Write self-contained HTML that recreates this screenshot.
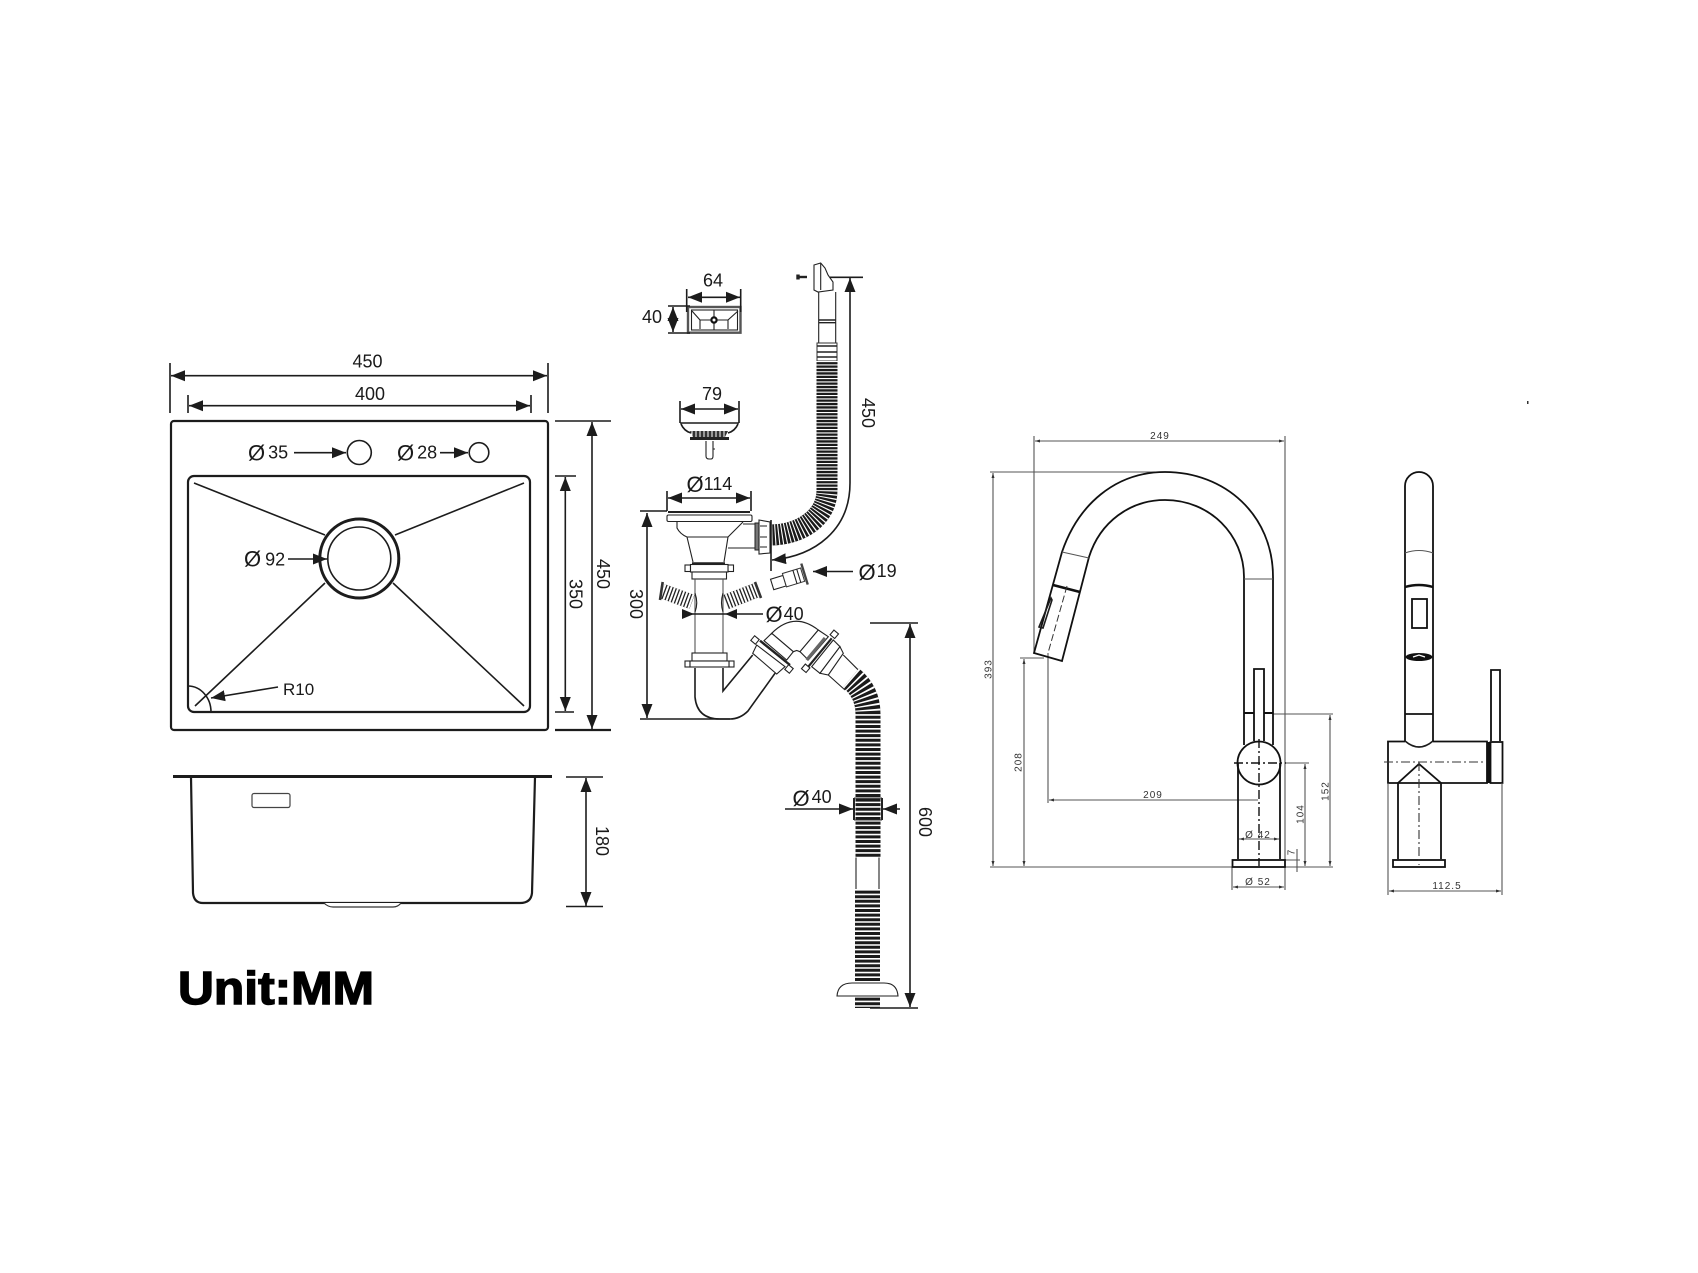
<!DOCTYPE html>
<html><head><meta charset="utf-8"><style>
html,body{margin:0;padding:0;background:#fff}
svg{display:block}
text{font-family:"Liberation Sans",sans-serif;fill:#1a1a1a}
.d{font-size:18px}
.p{font-size:22px}
.s{font-size:10px;letter-spacing:1px;fill:#333}
.m{text-anchor:middle}
.c{text-anchor:middle;dominant-baseline:central}
.l{fill:none;stroke:#1c1c1c;stroke-width:1.6}
.h{fill:none;stroke:#1c1c1c;stroke-width:2.2}
.f{fill:none;stroke:#111;stroke-width:1.8}
.g{fill:none;stroke:#555;stroke-width:1.1}
.w{fill:#fff;stroke:#222;stroke-width:1.1}
.n{fill:none;stroke:#222;stroke-width:1.1}
</style></head><body>
<svg width="1698" height="1273" viewBox="0 0 1698 1273" xmlns="http://www.w3.org/2000/svg">
<defs>
<marker id="a" markerUnits="userSpaceOnUse" markerWidth="16" markerHeight="12" refX="14" refY="6" orient="auto-start-reverse"><path d="M0 .5L14 6L0 11.5z" fill="#1c1c1c"/></marker>
<marker id="b" markerUnits="userSpaceOnUse" markerWidth="6" markerHeight="4" refX="5" refY="2" orient="auto-start-reverse"><path d="M0 .5L5 2L0 3.5z" fill="#333"/></marker>
</defs>
<rect width="1698" height="1273" fill="#fff"/>

<!-- sink top view -->
<rect x="171" y="421" width="377" height="309" rx="3" class="h"/>
<rect x="188" y="476" width="342" height="236" rx="6" class="h"/>
<circle cx="359.3" cy="452.500" r="12" class="l"/>
<circle cx="479" cy="452.500" r="9.800" class="l"/>
<circle cx="359.3" cy="558.500" r="39.500" fill="none" stroke="#1c1c1c" stroke-width="3"/>
<circle cx="359.3" cy="558.500" r="31.500" class="l"/>
<path class="l" d="M194 483L325 535M524 483L395 535M195 706L325 583M524 706L393 583"/>
<path class="l" d="M188 686A23 26 0 0 1 211 712"/>
<path class="l" d="M170 363V413M548 363V413M188 395V413M531 395V413"/>
<line class="l" x1="171" y1="375.7" x2="547" y2="375.7" marker-start="url(#a)" marker-end="url(#a)"/>
<line class="l" x1="189" y1="405.7" x2="530" y2="405.7" marker-start="url(#a)" marker-end="url(#a)"/>
<text class="d m" x="367.500" y="367.500">450</text>
<text class="d m" x="370" y="400">400</text>
<path class="l" d="M555 421H611M555 476H576M555 712H574"/>
<path class="h" d="M555 730H611"/>
<line class="l" x1="592" y1="422" x2="592" y2="729" marker-start="url(#a)" marker-end="url(#a)"/>
<line class="l" x1="565.3" y1="477" x2="565.3" y2="711" marker-start="url(#a)" marker-end="url(#a)"/>
<text class="d c" transform="translate(603 574) rotate(90)">450</text>
<text class="d c" transform="translate(575.500 594) rotate(90)">350</text>
<text class="d" x="248" y="460.500"><tspan class="p">Ø</tspan><tspan dx="3" dy="-2">35</tspan></text>
<line class="l" x1="294" y1="452.7" x2="346" y2="452.7" marker-end="url(#a)"/>
<text class="d" x="397" y="460.500"><tspan class="p">Ø</tspan><tspan dx="3" dy="-2">28</tspan></text>
<line class="l" x1="440" y1="452.7" x2="468" y2="452.7" marker-end="url(#a)"/>
<text class="d" x="244" y="566.500"><tspan class="p">Ø</tspan><tspan dx="4" dy="-1">92</tspan></text>
<line class="l" x1="288" y1="559" x2="327" y2="559" marker-end="url(#a)"/>
<text x="283" y="695" font-size="17">R10</text>
<line class="l" x1="278" y1="687" x2="211" y2="698" marker-end="url(#a)"/>

<!-- sink front view -->
<path d="M173 776.500H552" stroke="#1c1c1c" stroke-width="3" fill="none"/>
<path class="h" d="M191 777L193 893Q194 903 203 903H520Q531 903 532 893L535 777"/>
<rect x="252" y="793.500" width="38" height="14" rx="2" fill="none" stroke="#444" stroke-width="1.2"/>
<path d="M324 903Q328 907 333 907H393Q398 907 401 903" fill="#fff" stroke="#333" stroke-width="1.2"/>
<path class="l" d="M566 777H603M566 906.500H603"/>
<line class="l" x1="586" y1="778" x2="586" y2="906" marker-start="url(#a)" marker-end="url(#a)"/>
<text class="d c" transform="translate(602 841) rotate(90)">180</text>
<text x="178" y="1004" font-size="46" font-weight="700" textLength="196" lengthAdjust="spacingAndGlyphs" style="fill:#000;stroke:#000;stroke-width:1.4">Unit:MM</text>

<!-- overflow plate -->
<rect x="688" y="307" width="52.500" height="25.700" fill="none" stroke="#555" stroke-width="2.4"/>
<rect x="691.500" y="310" width="46" height="20" class="n"/>
<path class="n" d="M692 311L700 320V329M738 311L728 320V329M700 320H728M714 310V330"/>
<circle cx="714" cy="320" r="2.600" fill="#fff" stroke="#111" stroke-width="2.200"/>
<path class="l" d="M686.700 289V312M740.700 289V312M668 306H690M668 333H690"/>
<line class="l" x1="688" y1="297.300" x2="740" y2="297.300" marker-start="url(#a)" marker-end="url(#a)"/>
<line class="l" x1="673" y1="307" x2="673" y2="332" marker-start="url(#a)" marker-end="url(#a)"/>
<text class="d m" x="713" y="286.700">64</text>
<text class="d m" x="652" y="323">40</text>

<!-- strainer -->
<path class="l" d="M680 401V423M739 401V423"/>
<line class="l" x1="681" y1="409" x2="738" y2="409" marker-start="url(#a)" marker-end="url(#a)"/>
<text class="d m" x="712" y="400">79</text>
<path class="l" d="M680 423H739M681 424Q684 431 691 433M738 424Q735 431 728 433"/>
<path d="M690 431L728 431L725 437H693z" fill="#333"/>
<path d="M692 430V437M696 430V437M700 430V437M704 430V437M708 430V437M712 430V437M716 430V437M720 430V437M724 430V437" stroke="#fff" stroke-width="1"/>
<path d="M690 438.500H729" stroke="#222" stroke-width="3"/>
<path class="n" d="M706 441V456Q706 459 709 459H711Q713 459 713 456V441M713 449H715"/>

<!-- basket / pipes -->
<path class="l" d="M667 491V511M751 491V511M640 511H667"/>
<line class="l" x1="668" y1="498" x2="750" y2="498" marker-start="url(#a)" marker-end="url(#a)"/>
<text class="d" x="686.500" y="492"><tspan class="p">Ø</tspan><tspan dy="-2">114</tspan></text>
<path d="M668 512H750" stroke="#222" stroke-width="2"/>
<rect x="667" y="515" width="85" height="6.500" rx="1.500" class="w"/>
<path class="n" d="M677 522V528Q680 534 687 537L693 562M743 522L728 537L724 562M687 537H728M743 524H755M728 548H755"/>
<path d="M692 563.500H725" stroke="#222" stroke-width="2.400"/>
<rect x="755" y="523" width="5" height="27" fill="#777" stroke="#222"/>
<path class="w" d="M759 520L770 522V553L759 554z"/>
<path class="n" d="M760 526H767M760 537H767M760 547H767"/>
<rect x="685" y="565" width="5.500" height="6.500" class="w"/><rect x="728" y="565" width="5.500" height="6.500" class="w"/>
<rect x="690.500" y="564.500" width="37.500" height="7.500" class="w"/>
<rect x="692" y="572" width="34.500" height="7" class="w"/>
<path class="g" d="M695 579V653M723 579V653"/>
<rect x="692" y="653" width="35" height="8" class="w"/>
<rect x="685" y="661" width="5" height="6" class="w"/><rect x="729" y="661" width="5" height="6" class="w"/>
<rect x="690" y="661" width="39" height="6" class="w"/>
<path class="l" d="M695 668V697Q697 719 720 719H730Q740 719 748 711L775 673.300M723 668V691L752.700 655"/>

<!-- side hoses -->
<path d="M662 591L692 602" stroke="#222" stroke-width="15" fill="none"/>
<path d="M662 591L692 602" stroke="#fff" stroke-width="15" stroke-dasharray="2 1.300" fill="none"/>
<path d="M662.700 582L660 600" stroke="#333" stroke-width="2.600"/>
<path class="n" d="M695 593Q698.500 603 695 612"/>
<path d="M757 590L726 602" stroke="#222" stroke-width="15" fill="none"/>
<path d="M757 590L726 602" stroke="#fff" stroke-width="15" stroke-dasharray="2 1.300" fill="none"/>
<path d="M755 582L761 598" stroke="#333" stroke-width="2.600"/>
<path class="n" d="M723 593Q720 603 723 612"/>

<!-- 19 connector -->
<g transform="rotate(-17 772 584)">
<rect x="772" y="579" width="13" height="11" class="w"/>
<rect x="785" y="577" width="19" height="14" fill="#fff" stroke="#333"/>
<path class="n" d="M796 577V591M800 577V591"/>
<path d="M806 573V595" stroke="#444" stroke-width="2.400"/>
</g>
<line class="l" x1="853" y1="571.500" x2="813" y2="571.500" marker-end="url(#a)"/>
<text class="d" x="858.500" y="580"><tspan class="p">Ø</tspan><tspan dx="1" dy="-3">19</tspan></text>
<path class="l" d="M682 614H763"/>
<path d="M682 609L694 614L682 619zM737 609L725 614L737 619z" fill="#1c1c1c"/>
<text class="d" x="765.500" y="622"><tspan class="p">Ø</tspan><tspan dx="1" dy="-2">40</tspan></text>
<path class="l" d="M640 719H730"/>
<line class="l" x1="647" y1="513" x2="647" y2="718" marker-start="url(#a)" marker-end="url(#a)"/>
<text class="d c" transform="translate(636 604) rotate(90)">300</text>

<!-- hose 450 -->
<path class="w" d="M814 265L820.700 263L825 268L828 275L833 282L833 290L818 292L814 290z"/>
<path class="n" d="M820.700 263V290"/>
<path d="M799 277H807" stroke="#222" stroke-width="2.400"/><path d="M798 274.500V279.500" stroke="#222" stroke-width="3.400"/>
<path class="n" d="M818.700 292V343M835.700 292V343"/>
<path d="M819 320H836M819 322.700H836" stroke="#222" stroke-width="1.400"/>
<rect x="817" y="343" width="20" height="18" fill="#fff" stroke="#333"/>
<path d="M817 346H837M817 352H837M817 357H837" stroke="#222" stroke-width="1.400"/>
<path d="M827 361V490C827 518 800 535 770 535" stroke="#1a1a1a" stroke-width="21" fill="none"/>
<path d="M827 361V490C827 518 800 535 770 535" stroke="#fff" stroke-width="21" fill="none" stroke-dasharray="1.100 2.300"/>
<path class="l" d="M830 277.300H863"/>
<path class="l" d="M771 520V571"/>
<path class="l" d="M850 278V483C850 530 815 556 772 560" marker-start="url(#a)" marker-end="url(#a)"/>
<text class="d c" transform="translate(868 413) rotate(90)">450</text>

<!-- elbow -->
<path class="w" d="M771.700 633.300Q794 611 818.300 630L800 651.700L796.700 650.500L793.300 651.700z"/>
<path class="w" d="M771.700 633.300L793.300 651.700L786.700 660L764 640.700z"/>
<path class="n" d="M762 643L788 664"/>
<path d="M760 640.700L790 665" stroke="#222" stroke-width="2.400"/>
<path class="w" d="M756.700 645L785 666.700L776.700 674L752.700 653.300z"/>
<rect x="752" y="637" width="6" height="6" transform="rotate(40 755 640)" class="w"/>
<rect x="786" y="666" width="6" height="6" transform="rotate(40 789 669)" class="w"/>
<path class="w" d="M818.300 630L828.300 636.700L808.300 660L800 651.700z"/>
<path d="M825 638L806.700 660" stroke="#666" stroke-width="3.200"/>
<path d="M831.700 638.300L808.300 666.700" stroke="#222" stroke-width="2.200"/>
<rect x="831.300" y="631.300" width="6" height="6" transform="rotate(40 834.300 634.300)" class="w"/>
<rect x="802.700" y="665.300" width="6" height="6" transform="rotate(40 805.700 668.300)" class="w"/>
<path class="w" d="M833.300 640L840 646.700L820 673.300L811.700 666.700z"/>
<path class="w" d="M840 646.700L843.300 653.300L828.300 675L820 673.300z"/>
<path class="n" d="M843.300 655L860 671.700M828.300 675L845 690"/>

<!-- drain hose -->
<path d="M851 678Q868 692 868 714V857" stroke="#1a1a1a" stroke-width="25" fill="none"/>
<path d="M851 678Q868 692 868 714V857" stroke="#fff" stroke-width="25" fill="none" stroke-dasharray="1.600 3"/>
<path class="n" d="M856 857.500V889M879 857.500V889"/>
<path d="M867.500 889V982" stroke="#1a1a1a" stroke-width="25" fill="none"/>
<path d="M867.500 889V982" stroke="#fff" stroke-width="25" fill="none" stroke-dasharray="1.600 3"/>
<path d="M867.500 996V1008" stroke="#1a1a1a" stroke-width="25" fill="none"/>
<path d="M867.500 996V1008" stroke="#fff" stroke-width="25" fill="none" stroke-dasharray="1.600 3"/>
<path class="w" d="M837 996Q838 983 852 983H884Q897 983 898 996z"/>
<path d="M854 798V820M882 798V820" stroke="#222" stroke-width="2"/>
<path d="M854 798H882M854 820H882" stroke="#333" stroke-width="1"/>
<line class="l" x1="785" y1="809" x2="853" y2="809" marker-end="url(#a)"/>
<line class="l" x1="900" y1="809" x2="883" y2="809" marker-end="url(#a)"/>
<text class="d" x="792.500" y="806"><tspan class="p">Ø</tspan><tspan dx="2" dy="-3">40</tspan></text>
<path class="l" d="M870 623H918M870 1008H918"/>
<line class="l" x1="910" y1="624" x2="910" y2="1007" marker-start="url(#a)" marker-end="url(#a)"/>
<text class="d c" transform="translate(925 822) rotate(90)">600</text>

<!-- faucet front dims -->
<path class="g" d="M1034 436V653M1285 436V890M990 472H1165M990 867H1232M1020 658H1044M1285 867H1333M1285 763H1309M1273 714H1333M1285 860H1300M1232 867V890"/>
<line class="g" x1="1035" y1="441" x2="1284" y2="441" marker-start="url(#b)" marker-end="url(#b)"/>
<line class="g" x1="993" y1="473" x2="993" y2="866" marker-start="url(#b)" marker-end="url(#b)"/>
<line class="g" x1="1024" y1="659" x2="1024" y2="866" marker-start="url(#b)" marker-end="url(#b)"/>
<path class="g" d="M1048 653V803"/>
<line class="g" x1="1049" y1="800" x2="1258" y2="800" marker-start="url(#b)"/>
<line class="g" x1="1239" y1="839" x2="1279" y2="839" marker-start="url(#b)" marker-end="url(#b)"/>
<line class="g" x1="1233" y1="887" x2="1284" y2="887" marker-start="url(#b)" marker-end="url(#b)"/>
<line class="g" x1="1305" y1="764" x2="1305" y2="866" marker-start="url(#b)" marker-end="url(#b)"/>
<line class="g" x1="1330" y1="715" x2="1330" y2="866" marker-start="url(#b)" marker-end="url(#b)"/>
<path class="g" d="M1297 849V872"/>
<text class="s m" x="1160" y="439">249</text>
<text class="s c" transform="translate(989 669) rotate(-90)">393</text>
<text class="s c" transform="translate(1019 762) rotate(-90)">208</text>
<text class="s m" x="1153" y="798">209</text>
<text class="s m" x="1258" y="838">Ø 42</text>
<text class="s m" x="1258" y="885">Ø 52</text>
<text class="s c" transform="translate(1292 852) rotate(-90)">7</text>
<text class="s c" transform="translate(1301 814) rotate(-90)">104</text>
<text class="s c" transform="translate(1326 791) rotate(-90)">152</text>

<!-- faucet front -->
<path class="f" d="M1273 745V577C1273 515 1225 472 1165 472C1115 472 1078 505 1062 552L1034 653L1062 661L1089 557C1100 522 1130 500 1165 500C1210 500 1244 535 1244 577V745"/>
<path class="g" d="M1062 552L1089 558M1244 579H1273"/>
<path d="M1053 585L1080 592" stroke="#111" stroke-width="2.600"/>
<path class="l" d="M1051 598L1039 627L1043 628L1052 600z"/>
<path d="M1067 586L1048 653" stroke="#333" stroke-width="1" stroke-dasharray="7 3"/>
<path d="M1244 713H1254M1264 713H1273" stroke="#111" stroke-width="2"/>
<path class="f" d="M1254 741V669H1264V741"/>
<circle cx="1259" cy="763" r="21.500" class="f"/>
<path class="f" d="M1238 763V859M1280 763V859"/>
<rect x="1232.500" y="860" width="52.500" height="7" class="f"/>
<path stroke="#111" stroke-width="1.400" stroke-dasharray="9 3 2 3" fill="none" d="M1259 739V866M1234 763H1286"/>

<!-- faucet side -->
<path class="f" d="M1405 742V486A14 14 0 0 1 1433 486V742"/>
<path class="g" d="M1405 553Q1419 548 1433 553"/>
<path d="M1405 587Q1419 583 1433 587" stroke="#111" stroke-width="2.400" fill="none"/>
<rect x="1412" y="599" width="15" height="29" class="f"/>
<ellipse cx="1419" cy="657" rx="13.500" ry="4" fill="#111"/>
<path d="M1413 657L1419 655L1425 657" stroke="#fff" stroke-width="1.200" fill="none"/>
<path class="f" d="M1405 714H1433"/>
<path class="l" d="M1405 741Q1419 753 1433 741"/>
<path class="f" d="M1405 741.500H1388V783H1487V741.500H1433"/>
<rect x="1487" y="742" width="3.200" height="41" fill="#111"/>
<rect x="1490.500" y="742" width="12" height="41" class="f"/>
<path class="f" d="M1491 741V670H1500V741"/>
<path class="f" d="M1398 859V783L1419 764L1441 783V859"/>
<rect x="1393" y="860" width="52" height="7" class="f"/>
<path stroke="#333" stroke-width="1.100" stroke-dasharray="9 3 2 3" fill="none" d="M1384 762H1486M1419 762V865"/>
<path class="g" d="M1388 783V895M1502 783V895"/>
<line class="g" x1="1389" y1="891" x2="1501" y2="891" marker-start="url(#b)" marker-end="url(#b)"/>
<text class="s m" x="1447" y="889">112.5</text>
<rect x="1527" y="401" width="1.500" height="3" fill="#333"/>
</svg>
</body></html>
